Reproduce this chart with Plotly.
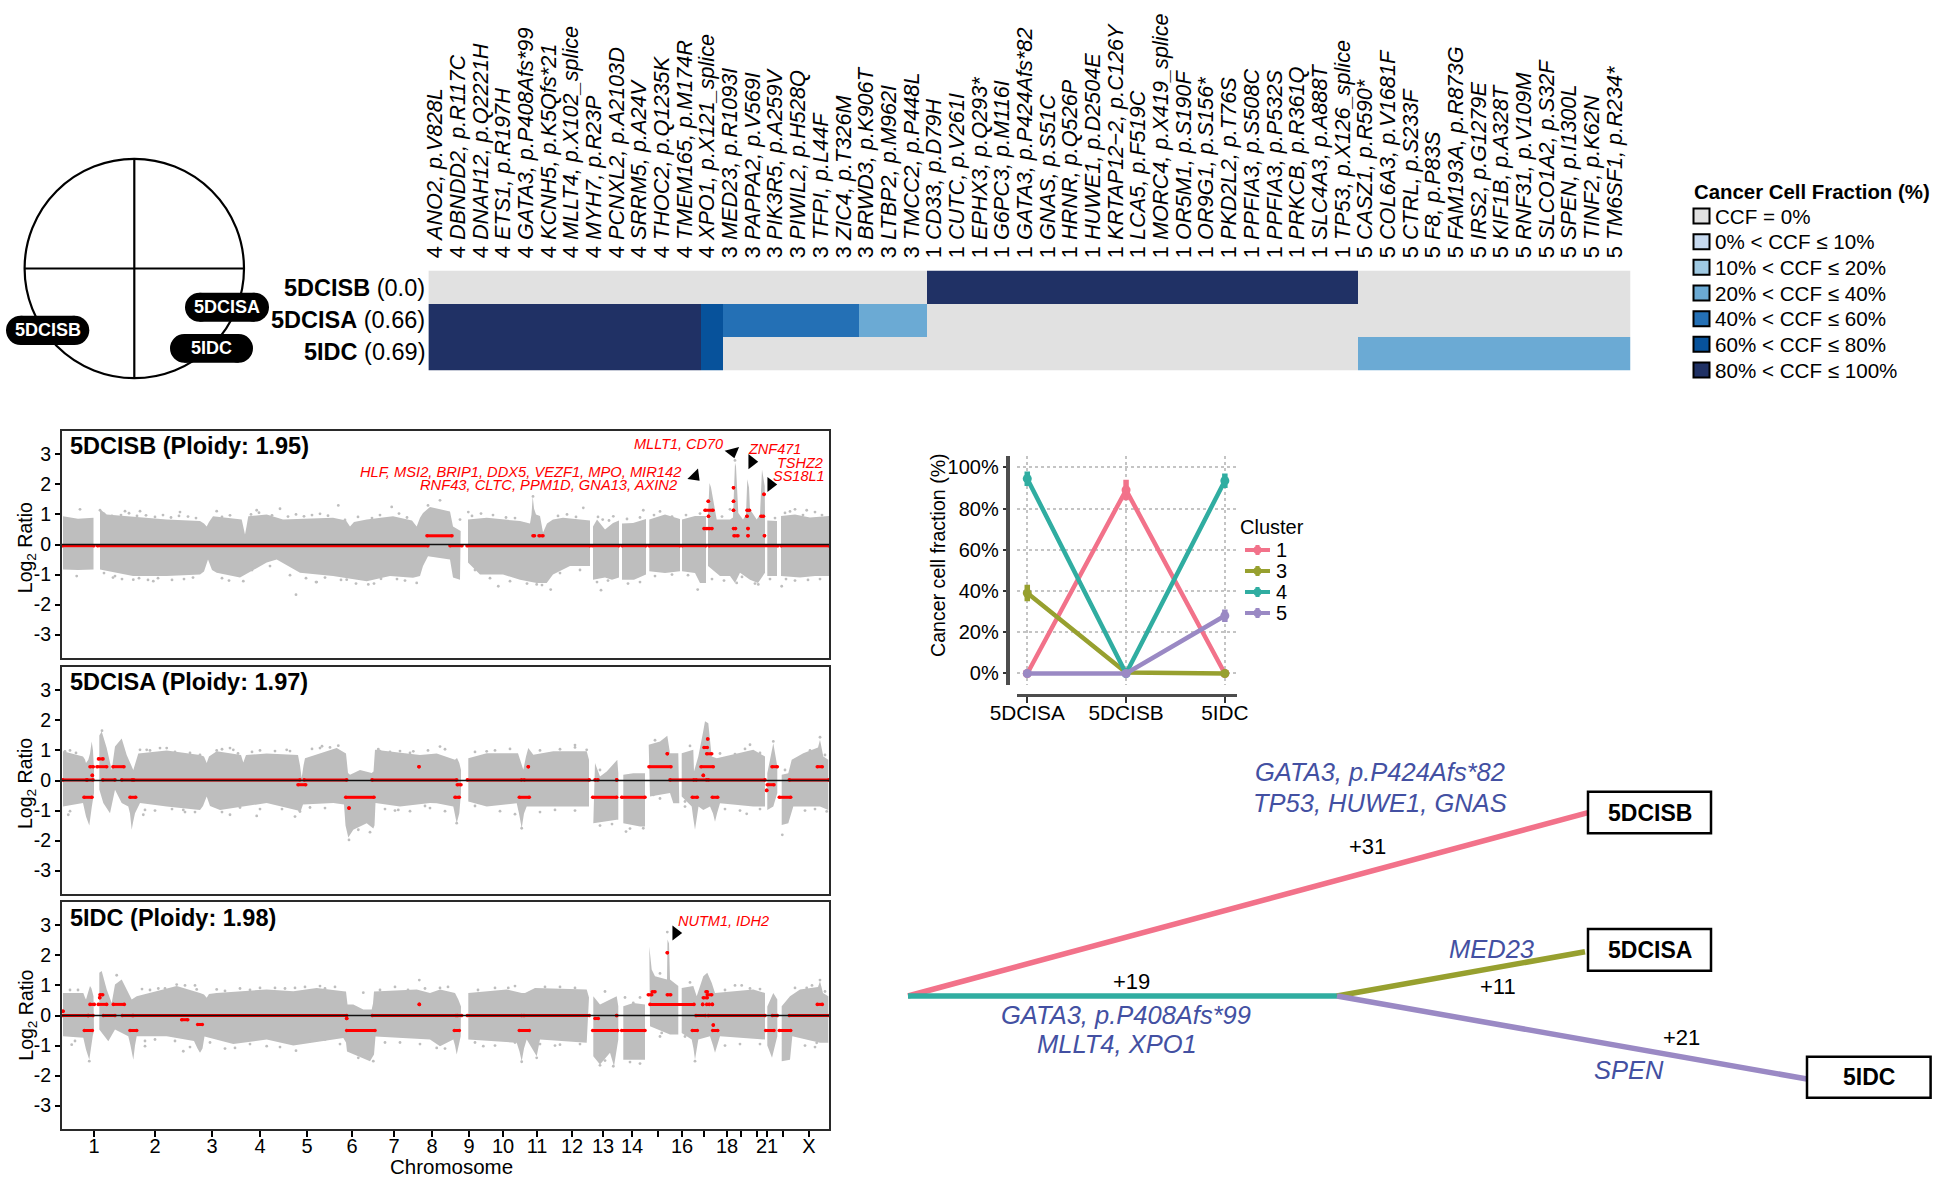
import plotly.graph_objects as go

W, H = 1937, 1178
FONT = "Liberation Sans"

# ---------------- mutation heatmap ----------------
COLUMN_LABELS = [
 "4 ANO2, p.V828L","4 DBNDD2, p.R117C","4 DNAH12, p.Q2221H","4 ETS1, p.R197H","4 GATA3, p.P408Afs*99",
 "4 KCNH5, p.K5Qfs*21","4 MLLT4, p.X102_splice","4 MYH7, p.R23P","4 PCNXL2, p.A2103D","4 SRRM5, p.A24V",
 "4 THOC2, p.Q1235K","4 TMEM165, p.M174R","4 XPO1, p.X121_splice","3 MED23, p.R1093I","3 PAPPA2, p.V569I",
 "3 PIK3R5, p.A259V","3 PIWIL2, p.H528Q","3 TFPI, p.L44F","3 ZIC4, p.T326M","3 BRWD3, p.K906T","3 LTBP2, p.M962I",
 "3 TMCC2, p.P448L","1 CD33, p.D79H","1 CUTC, p.V261I","1 EPHX3, p.Q293*","1 G6PC3, p.M116I","1 GATA3, p.P424Afs*82",
 "1 GNAS, p.S51C","1 HRNR, p.Q526P","1 HUWE1, p.D2504E","1 KRTAP12\u22122, p.C126Y","1 LCA5, p.F519C","1 MORC4, p.X419_splice",
 "1 OR5M1, p.S190F","1 OR9G1, p.S156*","1 PKD2L2, p.T76S","1 PPFIA3, p.S508C","1 PPFIA3, p.P532S","1 PRKCB, p.R361Q",
 "1 SLC4A3, p.A888T","1 TP53, p.X126_splice","5 CASZ1, p.R590*","5 COL6A3, p.V1681F","5 CTRL, p.S233F","5 F8, p.P83S",
 "5 FAM193A, p.R873G","5 IRS2, p.G1279E","5 KIF1B, p.A328T","5 RNF31, p.V109M","5 SLCO1A2, p.S32F","5 SPEN, p.I1300L",
 "5 TINF2, p.K62N","5 TM6SF1, p.R234*"]
ROW_LABELS = ["<b>5DCISB</b> (0.0)", "<b>5DCISA</b> (0.66)", "<b>5IDC</b> (0.69)"]
# CCF bin per column (0 = CCF 0%, 6 = 80-100%)
BIN_5DCISB = [0]*22 + [6]*19 + [0]*12
BIN_5DCISA = [6]*12 + [5] + [4]*6 + [3]*3 + [0]*19 + [0]*12
BIN_5IDC   = [6]*12 + [5] + [0]*9 + [0]*19 + [3]*12
CCF_COLORS = ["#E1E1E1","#C6D9EF","#9FC9E2","#6BAAD4","#2470B5","#07529B","#203165"]
CCF_LEGEND = ["CCF = 0%","0% < CCF \u2264 10%","10% < CCF \u2264 20%","20% < CCF \u2264 40%",
              "40% < CCF \u2264 60%","60% < CCF \u2264 80%","80% < CCF \u2264 100%"]

# ---------------- copy-number panels (x = genome index) ----------------
CHROM_TICKS = [94,155,212,260,307,352,394,432,469,503,537,572,603,632,682,727,767,809]
CHROM_LABELS = ["1","2","3","4","5","6","7","8","9","10","11","12","13","14","16","18","21","X"]
CHROM_UNLABELLED_TICKS = [658,704,741,757,783]
LOG2_TICKS = [-3,-2,-1,0,1,2,3]
LOG2_LABELS = ["-3","-2","-1","0","1","2","3"]

# Envelope of the grey depth cloud, blocks split by None
P1_UP_X = [63,78,93.5,None,
 100,106.7,166.7,200,204,206.7,209,213,241.7,243.5,245,246.5,248.3,266.7,283,333,346,350,354,366.7,393,412,416.7,420,423,430,440,450,453,460.7,None,
 468,486.7,520,530,531.5,532.7,534,536,540,543,547,553,563,587,590,None,
 593,597,605,613,619,None, 622,633,646,None, 649.3,665,680,None, 682,695,706,None,
 708,709.5,711,713.3,716.7,730,733,735,736,738.3,743,746,747.3,749,750,756.7,760,762,764.7,765,None,
 767.3,777,None, 781,795,810,829]
P1_UP_Y = [.94,.86,.89,None,
 1.17,1.0,.83,.78,.7,.6,.75,.94,.83,.6,.33,.6,.94,1.0,.83,.89,.8,.6,.75,.83,.94,.8,.6,.89,1.05,1.25,1.17,1.1,.6,.45,None,
 .83,.89,.78,.7,1.0,1.6,1.2,1.0,.95,.4,.7,.83,.89,.83,.8,None,
 .6,.83,.5,.72,.8,None, .7,.72,.85,None, .83,1.0,.85,None, .83,.95,.95,None,
 1.0,2.05,1.9,1.5,.83,.83,.9,2.72,2.6,1.05,.83,1.0,2.17,1.9,1.17,.83,1.0,2.5,1.95,1.0,None,
 .8,.78,None, .95,1.0,.9,.95]
P1_LO_X = [63,78,93.5,None,
 100,133,166.7,200,204,208,212,216.7,240,266.7,276.7,300,333,366.7,390,413,420,423,428,440,450,453,460,None,
 468,480,503,520,536.7,546.7,553,570,590,None,
 593,605,612,619,None, 622,634,646,None, 649.3,665,680,None, 682,695,700,706,None,
 708,720,730,735,740,750,758,765,None,
 767.3,777,None, 781,800,815,829]
P1_LO_Y = [-.83,-.85,-.83,None,
 -.83,-1.05,-1.05,-1.0,-.9,-.5,-.85,-.94,-1.1,-.6,-.5,-.94,-1.05,-1.22,-1.05,-1.11,-1.05,-.72,-.39,-.45,-.5,-1.1,-1.17,None,
 -.6,-1,-1,-1.17,-1.28,-1.28,-1,-.72,-.72,None,
 -1.17,-1.1,-1.17,-1.1,None, -1.17,-1.17,-1.0,None, -.89,-.95,-.89,None, -.89,-.95,-1.28,-1.28,None,
 -.72,-1.05,-1.05,-1.28,-.94,-1.17,-1.28,-.94,None,
 -1.05,-1.05,None, -1.05,-1.1,-1.05,-1.05]
P1_SPECK_X = [296,80,100,338.3,428,391.7,256.7,280,316.7,346.7,368.3,387,416.7,216.7,180,125,140,243.3,153.3,133.3,115,76.7,
 440,583.3,601,697.7,781.7,795,806.7,730,758.3,550.7,536.7,468.3,498.3,643.3,613.3,460,602.7,736.7,533,735]
P1_SPECK_Y = [-1.67,1.17,1.14,1.3,1.3,1.25,1.14,1.19,-1.25,-1.17,-1.33,-.97,-1.28,1.11,1.08,1.11,1.11,-1.22,-1.22,-1.17,-1.05,-1.05,
 1.47,1.22,-1.52,-1.5,-1.39,1.17,1.14,1.17,-1.33,-1.5,-1.33,1.08,-1.39,1.14,.94,.83,.83,-1.28,1.6,2.8]
P1_FRINGE_UP_X = [104,112,121,129,137,146,155,163,171,179,188,196,222,230,251,259,272,288,296,304,312,320,328,345,358,372,380,399,407,472,481,493,506,515,558,567,576,598,609,627,640,654,660,672,686,700,722,775,785,790,803,815,822]
P1_FRINGE_UP_Y = [1.02,.95,.98,1.04,.95,.97,.92,.98,.9,.95,.93,.88,.92,.97,1.0,1.06,.97,.93,1.0,.94,.98,1.02,.96,.82,.92,.88,.98,1.03,.9,.95,1.03,.98,.9,.88,.95,1.0,.92,.92,.8,.85,.9,.98,1.1,.93,.98,1.03,.93,.88,1.05,1.1,.98,1.08,.98]
P1_FRINGE_LO_X = [104,113,122,139,148,158,172,184,193,222,229,252,270,290,306,316,325,341,356,374,381,397,405,475,490,510,527,542,560,580,597,608,628,640,655,672,688,712,724,742,755,770,786,795,808,820]
P1_FRINGE_LO_Y = [-.95,-1.1,-1.15,-1.12,-1.18,-1.12,-1.18,-1.15,-1.1,-1.12,-1.2,-.85,-.72,-1.02,-1.12,-1.25,-1.1,-1.18,-1.3,-1.3,-1.14,-1.15,-1.2,-.85,-1.12,-1.22,-1.3,-1.35,-.95,-.85,-1.25,-1.2,-1.3,-1.25,-1.05,-1.0,-1.02,-1.15,-1.2,-1.08,-1.3,-1.15,-1.15,-1.2,-1.18,-1.15]
P1_SEG_START = [62.5,97.5,427,450,467,592,622,649,682,709,781,533,539,705,708.3,708.5,704,709,733.5,733.5,733.5,733.5,734,747,747,748,748,764,761,764.5]
P1_SEG_END   = [94,428,452,462,590,619,646,680,706,778,829,534.5,543,713,708.3,708.5,707,712,733.5,733.5,733.5,735.5,738,749.5,747,748,748,764,763.5,764.5]
P1_SEG_LOG2  = [-.04,-.04,.29,-.04,-.04,-.04,-.04,-.04,-.04,-.04,-.04,.29,.29,1.14,1.44,.94,.53,.53,1.89,1.44,1.14,.53,.29,1.14,.94,.53,.29,1.67,.94,.29]
P1_ARROW_X = [695,732.7,751.7,770.7]
P1_ARROW_Y = [2.28,3.08,2.76,2.0]
P1_ARROW_ANGLE = [135,165,90,90]

P2_UP_X = [63,83,85,86,88.3,90,91.7,93,94,None,
 99.3,101.7,106.7,111.7,115,121.7,126.7,131.7,133.3,138.3,166.7,200,204,206.7,209,216.7,241,243.3,246,266.7,298,300,301.7,303.5,305,336.7,343,346,348,350,360,371.7,373.5,375,420,436.7,455,457,459.3,461,None,
 468.3,486.7,518,520,521.7,523.3,526,528.3,533.3,553.3,586.7,589,None,
 595,600,606.7,617.3,618.3,None, 623.3,633.3,645,None, 648.7,660,667.3,670,678.3,None,
 681.7,693.3,694,695.3,698.3,703,705,708.3,711.7,716.7,753.3,765,None,
 767.3,773.3,777.3,None, 781.7,788.3,791.7,803.3,818,820,823.3,828.3]
P2_UP_Y = [.97,.8,.7,.58,.69,.9,1.3,1.0,.35,None,
 1.5,1.63,1.08,.35,1.13,1.4,.85,.47,.35,.9,1.0,.85,.8,.58,.8,.97,.85,.6,.85,.9,.85,.5,.08,.5,.74,1.08,.95,.9,.25,.19,.35,.25,.3,1.02,.85,.9,.69,.75,.58,.35,None,
 .74,.91,.91,.7,.6,.36,.8,1.08,.86,.97,.97,.69,None,
 .58,.13,.3,.69,.24,None, .19,.24,.24,None, 1.19,1.3,1.49,.91,.91,None,
 .91,1.02,.3,.47,.8,1.6,1.97,1.91,.8,.74,1.02,.8,None,
 .24,1.24,.47,None, .19,.24,.69,.91,1.1,1.36,.8,.69]
P2_LO_X = [63,83,85,86,89.3,90.5,91.7,94,None,
 99.3,103.3,110,115,121.7,128.3,130,131.7,133,135,140,166.7,200,203,206.7,210,220,266.7,298,300,303,333.3,344,345.5,346.7,348.3,353.3,366.7,373.3,374.5,375.5,400,430,436.7,453.3,455,456.7,459.3,461,None,
 468.3,486.7,516.7,519,521.7,524,526.7,533.3,586.7,589,None,
 593.3,616.7,618.3,None, 623.3,640,645,None, 650,670,673.3,679.3,None,
 681.7,691.7,693,695,697,698.5,703.3,710,713,715,717,720,753.3,765,None,
 767.3,773.3,777.3,None, 781.7,788.3,793.3,820,828.3]
P2_LO_Y = [-.87,-.75,-1.0,-1.2,-1.5,-1.3,-.9,-.42,None,
 -.3,-.75,-1.09,-.31,-.75,-.87,-1.1,-1.64,-1.4,-1.09,-.75,-.87,-.98,-.85,-.53,-.85,-.98,-.75,-1.0,-1.09,-.8,-.75,-.8,-1.5,-1.6,-1.9,-1.64,-1.42,-1.6,-1.5,-.75,-.87,-.75,-.76,-.87,-1.1,-1.42,-1.09,-.42,None,
 -.7,-.87,-.76,-1.1,-1.59,-1.1,-.87,-.87,-.87,-.87,None,
 -1.42,-1.31,-1.31,None, -1.42,-1.53,-1.53,None, -.53,-.42,-.76,-.76,None,
 -.53,-.87,-1.2,-1.64,-1.2,-.87,-.98,-.87,-1.1,-1.37,-1.1,-.76,-.87,-.87,None,
 -.98,-.87,-.42,None, -1.48,-1.42,-.87,-.87,-.98]
P2_SPECK_X = [370,358.3,256.7,230,68.3,143.3,320,338.3,286.7,233.3,216.7,166.7,146.7,65,300,183.3,378.3,413.3,398.3,
 440,486.7,586.7,575,430,626,643.3,653.3,750,773.3,782.3,820,746.7,521.7,456.7,826.7,685,349,102]
P2_SPECK_Y = [-1.72,-1.64,-1.18,-1.14,-1.14,-1.14,1.08,1.16,1.02,1.02,1.0,1.08,1.02,.97,-1.03,-.98,1.04,.97,-.98,
 1.13,.97,1.02,1.18,-.92,-1.7,-1.59,-.48,1.19,1.3,-1.81,1.44,-1.11,-1.59,-1.42,-1.03,-.87,-1.98,1.66]
P2_FRINGE_UP_X = [70,76,140,150,160,175,190,200,222,230,238,252,260,275,290,312,322,330,380,390,400,410,428,445,475,495,510,540,560,575,600,655,690,705,720,735,745,760,785,810,825]
P2_FRINGE_UP_Y = [1.0,.92,1.02,1.0,1.08,.95,.92,.85,1.04,1.08,.9,.95,1.0,.98,.98,1.05,1.14,1.1,.98,.95,.98,.92,1.0,1.04,.95,1.0,1.05,1.0,1.04,1.1,.35,1.34,1.15,.95,.9,.88,1.05,.92,.35,1.0,.85]
P2_FRINGE_LO_X = [70,145,155,172,185,195,222,240,260,282,295,310,325,385,395,410,425,445,475,500,515,540,555,575,600,612,630,660,685,725,740,760,805,815]
P2_FRINGE_LO_Y = [-1.02,-.98,-1.0,-.95,-1.05,-1.05,-1.05,-.9,-.95,-.95,-1.2,-.9,-.92,-.95,-1.0,-1.02,-.85,-1.02,-.85,-1.02,-1.12,-1.05,-.98,-1.0,-1.5,-1.45,-1.6,-.6,-.7,-.95,-1.0,-.95,-1.0,-.95]
P2_SEG_START = [62.7,84,90,92.3,87,98.5,97,102.7,113,121.7,130,133.7,298,304,345.7,349,372,419,455,457.3,467.3,519.3,528.3,524,592.7,595,616.7,621.7,649,667.3,670,692.3,696,703.3,701,706.7,704,707.7,708.3,712.3,766.7,767.3,772,779.3,789.3,817.3]
P2_SEG_END   = [86.7,92,93.3,92.3,93,103,106.7,115,124,132.3,135.7,300,305.7,346.7,374,349,456.7,419,459.3,461,521.7,529.3,528.3,589.3,616.7,598,616.7,645,671,667.3,694,697.3,706.7,703.3,713.3,711.7,707.3,707.7,765,717.7,766.7,774,777.3,790.7,829,822.3]
P2_SEG_LOG2  = [.02,-.56,.46,.17,.02,.72,.46,.02,.46,.02,-.56,.02,-.14,.02,-.56,-.92,.02,.46,-.56,-.14,.02,-.56,.46,.02,-.56,.02,.02,-.56,.46,.89,.02,-.56,.02,.17,.46,.89,1.1,1.38,.02,-.56,-.33,-.14,.46,-.56,.02,.46]

P3_UP_X = [63,83.3,85,86,90,91.5,93.5,None,
 99.3,101.7,106.7,111.7,115,121.7,126.7,131.7,136.7,156.7,176.7,200,204,206.7,209,216.7,266.7,293.3,316.7,343.3,346,347.5,353.3,363.3,371.7,373,374,416.7,430,440,455,458.3,461,None,
 468.3,506.7,521.7,525,535,586.7,589,None,
 593.3,600,616.7,618.3,None, 623.3,633.3,645,None, 649.3,650,651.7,655,667,667.5,669,670,678.3,None,
 681.7,693.3,696.7,703.3,707.3,711.7,715,753.3,765,None,
 767.3,773.3,777.3,None, 781.7,790,800,818,820,823,828.3]
P3_UP_Y = [.75,.75,.6,.53,.98,.9,.64,None,
 1.42,1.48,.87,.42,1.03,1.2,.87,.53,.64,.81,.98,.75,.7,.59,.72,.75,.87,.81,.92,.81,.8,.37,.37,.2,.2,.4,.8,.87,.75,.87,.75,.53,.3,None,
 .75,.87,.75,.75,.92,.87,.6,None,
 .64,.37,.64,.31,None, .31,.42,.37,None, 2.3,2.0,1.53,1.31,1.2,2.53,2.4,1.2,.98,None,
 .92,.98,.64,1.31,1.42,1.09,.75,.87,.75,None,
 .3,.75,.53,None, .31,.64,.87,.95,1.14,.75,.64]
P3_LO_X = [63,83.3,85,86,89.3,91,92.7,94,None,
 99.3,108.3,115,128.3,130.5,133.3,135,136.7,166.7,194,197.5,200,202.5,204.5,233.3,266.7,293.3,343.3,346,347,370,374,375.5,430,440,453.3,455,456.7,459,460.7,None,
 468.3,516.7,519.5,521.7,524,526.7,536.7,540,586.7,None,
 593.3,600,610,614,618.3,None, 623.3,645,None, 650,670,678.3,None,
 681.7,691.7,693.5,695,696.5,698.3,710,713,715,717,720,765,None,
 767.3,772,777.3,None, 781.7,790,792.3,820,828.3]
P3_LO_Y = [-.69,-.74,-1.0,-1.13,-1.47,-1.1,-.69,-.5,None,
 -.47,-.86,-.47,-.69,-1.0,-1.47,-1.0,-.69,-.69,-.85,-1.1,-1.24,-1.1,-.7,-.95,-.8,-1.0,-.75,-.9,-1.2,-1.52,-1.3,-.7,-.8,-1.02,-.8,-1.0,-1.3,-1.0,-.69,None,
 -.8,-.91,-1.2,-1.52,-1.1,-.8,-1.36,-.8,-.91,None,
 -1.36,-1.63,-1.24,-1.69,-.8,None, -1.47,-1.47,None, -.36,-.63,-.63,None,
 -.58,-.8,-1.1,-1.47,-1.1,-.8,-.69,-1.0,-1.24,-1.0,-.69,-.8,None,
 -1.0,-1.41,-.69,None, -1.52,-1.47,-.69,-.91,-.91]
P3_SPECK_X = [419.3,89.3,116.7,176.7,320,373.3,296,266.7,183.3,235,145,71.7,363.3,358.3,196.7,158.3,216.7,260,295,
 667.3,613.3,600,695,536.7,521.7,508.3,440,820,806.7,741.7,436.7,483.3,560,661.7,633.3,816.7]
P3_SPECK_Y = [1.18,-1.52,1.34,1.03,.98,-1.52,-1.17,-1.02,-1.19,-1.08,-1.02,-.97,.76,-1.41,.87,.9,.87,.92,.92,
 2.78,-1.69,-1.66,-1.52,-1.41,-1.54,.92,.92,1.18,.92,1.0,-1.08,-1.02,-.97,-.58,.42,-.91]
P3_FRINGE_UP_X = [70,78,142,150,165,185,195,225,240,250,275,285,305,325,335,380,395,408,425,448,478,495,515,545,560,575,605,625,640,660,690,725,735,750,760,795,812,825]
P3_FRINGE_UP_Y = [.85,.85,.88,.85,.9,1.0,1.0,.82,.9,.85,.92,.9,.95,.9,.95,.85,.95,.85,.9,.95,.85,.92,.98,.95,.95,.92,.8,.6,.6,1.4,1.1,.85,1.0,.9,.88,.92,1.0,.8]
P3_FRINGE_LO_X = [75,145,155,175,190,210,225,250,280,310,325,340,385,400,420,445,475,495,515,540,555,580,605,630,640,660,685,725,740,760,805,815]
P3_FRINGE_LO_Y = [-.85,-.85,-.8,-.85,-1.05,-.9,-1.1,-.95,-1.05,-.85,-.8,-.95,-.9,-.9,-.95,-1.1,-.9,-1.0,-.9,-.95,-1.0,-.95,-1.5,-1.55,-1.6,-.7,-.7,-1.0,-.95,-.95,-1.0,-1.05]
P3_SEG_START = [62.7,63,84.3,90,88,98.3,100,99.7,103.3,113.3,122.3,130,133.3,181.7,197.7,346.7,346.7,372.3,419.3,454.3,457.7,467.3,519.3,524,592.7,595,616.7,621.7,648.3,652.3,650,667.3,667.3,692.3,696,702.7,703.3,706,707.3,706.7,712.3,708.3,713.3,712.7,765.7,772.3,779.3,789.3,817.3]
P3_SEG_END   = [88.3,63,92.3,94.3,93,106.7,102.7,99.7,115,124.3,132.3,136.7,346.7,187.7,202.3,346.7,375,456,419.3,459.3,461.7,521.7,529.3,589.3,617.7,598.3,616.7,645,651.7,655,694,667.3,670.7,697.3,705.3,702.7,707.3,707.3,711.7,709.3,712.3,765,713.3,717.7,774,777.3,790.7,829,822.3]
P3_SEG_LOG2  = [0,.14,-.5,.37,0,.37,.69,.59,0,.37,0,-.5,0,-.14,-.3,-.1,-.5,0,.37,-.5,0,0,-.5,0,-.5,-.1,0,-.5,.69,.79,.37,2.09,.69,-.5,0,.37,.59,.79,.69,.37,.37,0,-.32,-.5,-.5,0,-.5,0,.37]
P3_ARROW_X = [675.7]
P3_ARROW_Y = [2.75]
P3_ARROW_ANGLE = [90]

# ---------------- CCF line chart ----------------
SAMPLES = ["5DCISA","5DCISB","5IDC"]
CLUSTER_NAMES = ["1","3","4","5"]
CLUSTER_COLORS = ["#F2728A","#97A02F","#30ADA1","#9A89C4"]
CCF_1 = [0,89,0];   ERR_1 = [0,5,0]
CCF_3 = [39,0.5,0]; ERR_3 = [4,0,0]
CCF_4 = [94.5,0,93.5]; ERR_4 = [3.5,0,3.5]
CCF_5 = [0,0,28];   ERR_5 = [0,0,3]
CCF_TICKS = [0,20,40,60,80,100]
CCF_TICKTEXT = ["0%","20%","40%","60%","80%","100%"]

# ---------------- phylogenetic tree ----------------
TREE_PINK_X = [908,1588];  TREE_PINK_Y = [996,812.7]
TREE_TEAL_X = [908,1337];  TREE_TEAL_Y = [996,996]
TREE_OLIVE_X = [1337,1585]; TREE_OLIVE_Y = [996,951.7]
TREE_PURPLE_X = [1337,1807]; TREE_PURPLE_Y = [996,1079]

# ---------------- helpers ----------------
fig = go.Figure()
annos, shapes = [], []

def fx(px): return px / W
def fy(py): return 1 - py / H

def txt(x, y, s, size=20, color="black", anchor="center", angle=0):
    annos.append(dict(xref="x9", yref="y9", x=x, y=y, text=s, showarrow=False, textangle=angle,
                      xanchor=anchor, yanchor="middle", font=dict(family=FONT, size=size, color=color)))

def rect(x0, y0, x1, y1, fill, line="black", w=0):
    shapes.append(dict(type="rect", xref="x9", yref="y9", x0=x0, y0=y0, x1=x1, y1=y1, fillcolor=fill,
                       line=dict(color=line, width=w), layer="above"))

def circle(cx, cy, r, fill="rgba(0,0,0,0)", line="black", w=2):
    shapes.append(dict(type="circle", xref="x9", yref="y9", x0=cx-r, y0=cy-r, x1=cx+r, y1=cy+r, fillcolor=fill,
                       line=dict(color=line, width=w), layer="above"))

def seg(x0, y0, x1, y1, color="black", w=2):
    shapes.append(dict(type="line", xref="x9", yref="y9", x0=x0, y0=y0, x1=x1, y1=y1,
                       line=dict(color=color, width=w), layer="above"))

def pill(x0, y0, x1, y1, label, tx=None, size=18):
    r = (y1-y0)/2
    rect(x0+r, y0, x1-r, y1, "black")
    circle(x0+r, y0+r, r, "black", "black", 0)
    circle(x1-r, y0+r, r, "black", "black", 0)
    txt(tx if tx else (x0+x1)/2, (y0+y1)/2, "<b>%s</b>" % label, size, "white")

def blocks(xs, ys):
    out, cx, cy = [], [], []
    for a, b in zip(xs, ys):
        if a is None:
            out.append((cx, cy)); cx, cy = [], []
        else:
            cx.append(a); cy.append(b)
    out.append((cx, cy))
    return out

def envelope(ux, uy, lx, ly):
    X, Y = [], []
    for (a, b), (c, d) in zip(blocks(ux, uy), blocks(lx, ly)):
        X += a + c[::-1] + [None]
        Y += b + d[::-1] + [None]
    return X, Y

def seg_lines(s, e, v):
    X, Y = [], []
    for a, b, c in zip(s, e, v):
        X += [a, b, None]; Y += [c, c, None]
    return X, Y

def merged(*pairs):
    X, Y = [], []
    for xs, ys in pairs:
        for a, b in zip(xs, ys):
            X.append(a); Y.append(b)
    return X, Y

layout_axes = {}
LINE_DARK = "#2a2a2a"
PANELS = [
 ("", 431, 658, P1_UP_X, P1_UP_Y, P1_LO_X, P1_LO_Y,
  merged((P1_SPECK_X, P1_SPECK_Y), (P1_FRINGE_UP_X, P1_FRINGE_UP_Y), (P1_FRINGE_LO_X, P1_FRINGE_LO_Y)),
  P1_SEG_START, P1_SEG_END, P1_SEG_LOG2, P1_ARROW_X, P1_ARROW_Y, P1_ARROW_ANGLE),
 ("2", 667, 894, P2_UP_X, P2_UP_Y, P2_LO_X, P2_LO_Y,
  merged((P2_SPECK_X, P2_SPECK_Y), (P2_FRINGE_UP_X, P2_FRINGE_UP_Y), (P2_FRINGE_LO_X, P2_FRINGE_LO_Y)),
  P2_SEG_START, P2_SEG_END, P2_SEG_LOG2, [], [], []),
 ("3", 902, 1129, P3_UP_X, P3_UP_Y, P3_LO_X, P3_LO_Y,
  merged((P3_SPECK_X, P3_SPECK_Y), (P3_FRINGE_UP_X, P3_FRINGE_UP_Y), (P3_FRINGE_LO_X, P3_FRINGE_LO_Y)),
  P3_SEG_START, P3_SEG_END, P3_SEG_LOG2, P3_ARROW_X, P3_ARROW_Y, P3_ARROW_ANGLE),
]
for idx, (sfx, top, bot, ux, uy, lx, ly, speck, s0, s1, sv, ax_, ay_, aa) in enumerate(PANELS):
    xr, yr = "x"+sfx, "y"+sfx
    ex, ey = envelope(ux, uy, lx, ly)
    fig.add_trace(go.Scatter(x=ex, y=ey, xaxis=xr, yaxis=yr, mode="lines", fill="toself", fillcolor="#BEBEBE",
                             line=dict(width=0, color="#BEBEBE"), showlegend=False, hoverinfo="skip"))
    fig.add_trace(go.Scatter(x=speck[0], y=speck[1], xaxis=xr, yaxis=yr, mode="markers", marker=dict(size=2.8, color="#BEBEBE"),
                             showlegend=False, hoverinfo="skip"))
    rx, ry = seg_lines(s0, s1, sv)
    fig.add_trace(go.Scatter(x=rx, y=ry, xaxis=xr, yaxis=yr, mode="lines+markers", line=dict(color="#FF0000", width=3),
                             marker=dict(color="#FF0000", size=3.6), showlegend=False, hoverinfo="skip"))
    if ax_:
        fig.add_trace(go.Scatter(x=ax_, y=ay_, xaxis=xr, yaxis=yr, mode="markers",
                                 marker=dict(symbol="triangle-up", size=13, color="black", angle=aa),
                                 showlegend=False, hoverinfo="skip"))
    shapes.append(dict(type="line", xref=xr+" domain", yref=yr, x0=0, x1=1, y0=0, y1=0,
                       line=dict(color="#111111", width=1.5), layer="above"))
    is_last = idx == 2
    layout_axes["xaxis"+sfx] = dict(domain=[fx(62), fx(829)], range=[62, 829], anchor=yr, showgrid=False, zeroline=False,
        automargin=False, showline=True, mirror=True, linecolor=LINE_DARK, linewidth=2,
        tickmode="array", tickvals=CHROM_TICKS if is_last else [], ticktext=CHROM_LABELS if is_last else [],
        ticks="outside" if is_last else "", ticklen=6, tickwidth=1.5, tickcolor="black", ticklabelstandoff=-8,
        tickangle=0, tickfont=dict(family=FONT, size=20, color="black"),
        minor=dict(tickmode="array", tickvals=CHROM_UNLABELLED_TICKS if is_last else [], ticks="outside" if is_last else "",
                   ticklen=6, tickwidth=1.5, tickcolor="black", showgrid=False))
    layout_axes["yaxis"+sfx] = dict(domain=[fy(bot), fy(top)], range=[-3.78, 3.78], anchor=xr, showgrid=False, zeroline=False,
        automargin=False, showline=True, mirror=True, linecolor=LINE_DARK, linewidth=2,
        tickmode="array", tickvals=LOG2_TICKS, ticktext=LOG2_LABELS, ticks="outside", ticklen=5, tickwidth=1.5,
        tickcolor="black", tickfont=dict(family=FONT, size=19.5, color="black"))

# heatmap
def italic_label(s):
    return s[:2] + "<i>" + s[2:] + "</i>"
z = [BIN_5DCISB, BIN_5DCISA, BIN_5IDC]
n = len(CCF_COLORS)
scale = []
for i, c in enumerate(CCF_COLORS):
    scale += [[i/n, c], [(i+1)/n, c]]
fig.add_trace(go.Heatmap(z=z, xaxis="x4", yaxis="y4", zmin=-0.5, zmax=6.5, colorscale=scale, showscale=False,
                         hoverinfo="skip", xgap=0, ygap=0))
layout_axes["xaxis4"] = dict(domain=[fx(428.4), fx(1630.6)], range=[-0.5, 52.5], anchor="y4", side="top", showgrid=False,
    automargin=False, zeroline=False, showline=False, tickmode="array", tickvals=[i-0.2 for i in range(len(COLUMN_LABELS))],
    ticktext=[italic_label(s) for s in COLUMN_LABELS], tickangle=-90, ticks="outside", ticklen=7,
    tickcolor="rgba(0,0,0,0)", tickfont=dict(family=FONT, size=21.7, color="black"))
layout_axes["yaxis4"] = dict(domain=[fy(370.6), fy(270.5)], range=[2.5, -0.5], anchor="x4", showgrid=False, zeroline=False,
    automargin=False, showline=False, showticklabels=False, ticks="")
for lab, y in zip(ROW_LABELS, [287.7, 320, 351.7]):
    txt(426.5, y, lab, 23.5, anchor="right")

# CCF line chart
for name, col, v, e in zip(CLUSTER_NAMES, CLUSTER_COLORS, [CCF_1, CCF_3, CCF_4, CCF_5], [ERR_1, ERR_3, ERR_4, ERR_5]):
    fig.add_trace(go.Scatter(x=[0, 1, 2], y=v, xaxis="x5", yaxis="y5", mode="lines+markers", name=name,
                             line=dict(color=col, width=4.5), marker=dict(color=col, size=9),
                             error_y=dict(type="data", array=e, color=col, thickness=5.5, width=0),
                             showlegend=False, hoverinfo="skip"))
layout_axes["xaxis5"] = dict(domain=[fx(1016.7), fx(1236.7)], range=[-0.107, 2.12], anchor="free", position=fy(694.5),
    automargin=False, showgrid=True, griddash="dot", gridcolor="#C4C4C4", gridwidth=1.6, zeroline=False, showline=True,
    linecolor="#4D4D4D", linewidth=3, tickmode="array", tickvals=[0, 1, 2], ticktext=SAMPLES, ticks="outside", ticklen=6,
    tickwidth=1.5, tickcolor="#333333", ticklabelstandoff=-7, tickfont=dict(family=FONT, size=20.8, color="black"))
layout_axes["yaxis5"] = dict(domain=[fy(685), fy(456)], range=[-5.6, 105.5], anchor="free", position=fx(1007.5),
    automargin=False, showgrid=True, griddash="dot", gridcolor="#C4C4C4", gridwidth=1.6, zeroline=False, showline=True,
    linecolor="#4D4D4D", linewidth=3.5, tickmode="array", tickvals=CCF_TICKS, ticktext=CCF_TICKTEXT, ticks="outside",
    ticklen=3, tickwidth=1.5, tickcolor="#333333", tickfont=dict(family=FONT, size=20, color="black"))

# tree on the full-page overlay axes
for xs, ys, col in [(TREE_PINK_X, TREE_PINK_Y, CLUSTER_COLORS[0]), (TREE_TEAL_X, TREE_TEAL_Y, CLUSTER_COLORS[2]),
                    (TREE_OLIVE_X, TREE_OLIVE_Y, CLUSTER_COLORS[1]), (TREE_PURPLE_X, TREE_PURPLE_Y, CLUSTER_COLORS[3])]:
    fig.add_trace(go.Scatter(x=xs, y=ys, xaxis="x9", yaxis="y9", mode="lines", line=dict(color=col, width=5.5),
                             showlegend=False, hoverinfo="skip"))
layout_axes["xaxis9"] = dict(domain=[0, 1], range=[0, W], visible=False, anchor="y9", automargin=False)
layout_axes["yaxis9"] = dict(domain=[0, 1], range=[H, 0], visible=False, anchor="x9", automargin=False)

# circle diagram
circle(134.3, 268.5, 109.7, w=2.2)
seg(134.3, 159, 134.3, 378, w=2.2)
seg(24.6, 268.5, 244, 268.5, w=2.2)
pill(6, 315.7, 89.3, 345, "5DCISB")
pill(185, 292.7, 269, 321.7, "5DCISA")
pill(170, 334, 253, 362.7, "5IDC", 211)

# CCF legend
txt(1692, 191.7, "<b>Cancer Cell Fraction (%)</b>", 20.4, anchor="left")
for i, (lab, col) in enumerate(zip(CCF_LEGEND, CCF_COLORS)):
    cy = 216 + i*25.67
    rect(1693.5, cy-7.5, 1709.5, cy+7.5, col, "black", 2)
    txt(1712.5, cy, lab, 20.6, anchor="left")

# panel text
for y, s in [(446, "5DCISB (Ploidy: 1.95)"), (682.3, "5DCISA (Ploidy: 1.97)"), (918.3, "5IDC (Ploidy: 1.98)")]:
    txt(68, y, "<b>%s</b>" % s, 23.5, anchor="left")
for y in [547.5, 783.3, 1015]:
    txt(26.7, y, "Log<sub>2</sub> Ratio", 19.5, angle=-90)
txt(451, 1166, "Chromosome", 20.5)
RED = "#FF0000"
txt(632.3, 444, "<i>MLLT1, CD70</i>", 14.5, RED, "left")
txt(746, 449.3, "<i>ZNF471</i>", 14.5, RED, "left")
txt(825, 462.7, "<i>TSHZ2</i>", 14.5, RED, "right")
txt(826.7, 476, "<i>SS18L1</i>", 14.5, RED, "right")
txt(682.7, 471.7, "<i>HLF, MSI2, BRIP1, DDX5, VEZF1, MPO, MIR142</i>", 14.7, RED, "right")
txt(679.3, 485, "<i>RNF43, CLTC, PPM1D, GNA13, AXIN2</i>", 14.7, RED, "right")
txt(675.7, 921, "<i>NUTM1, IDH2</i>", 14.5, RED, "left")

# line-chart labels and cluster legend
txt(938, 555, "Cancer cell fraction (%)", 19.6, angle=-90)
txt(1238, 526.7, "Cluster", 20, anchor="left")
for i, (name, col) in enumerate(zip(CLUSTER_NAMES, CLUSTER_COLORS)):
    cy = 550 + i*21
    seg(1245, cy, 1270, cy, col, 4)
    seg(1257.5, cy-5, 1257.5, cy+5, col, 4)
    circle(1257.5, cy, 4, col, col, 0)
    txt(1274, cy, name, 20, anchor="left")

# tree labels
for x0, y0, x1, y1, lab in [(1588, 791.7, 1711, 833.3, "5DCISB"), (1588, 929, 1711, 970.7, "5DCISA"), (1807, 1056.7, 1930.6, 1097.7, "5IDC")]:
    rect(x0, y0, x1, y1, "white", "black", 2.5)
    txt((x0+x1)/2, (y0+y1)/2, "<b>%s</b>" % lab, 23)
BLUE = "#4350A2"
for x, y, s in [(1380, 772.3, "GATA3, p.P424Afs*82"), (1380, 803, "TP53, HUWE1, GNAS"), (1126, 1015, "GATA3, p.P408Afs*99"),
                (1117.4, 1044, "MLLT4, XPO1"), (1491.6, 949, "MED23"), (1628.5, 1070, "SPEN")]:
    txt(x, y, "<i>%s</i>" % s, 25.5, BLUE)
for x, y, s in [(1367.5, 846.7, "+31"), (1131, 981, "+19"), (1498.3, 986.7, "+11"), (1681, 1037.3, "+21")]:
    txt(x, y, s, 22)

fig.update_layout(width=W, height=H, margin=dict(l=0, r=0, t=0, b=0), paper_bgcolor="white", plot_bgcolor="rgba(0,0,0,0)",
                  showlegend=False, annotations=annos, shapes=shapes, font=dict(family=FONT), **layout_axes)
fig.write_html("out.html", config={"displayModeBar": False},
               post_script="document.body.style.margin='0';document.documentElement.style.overflow='hidden';")
